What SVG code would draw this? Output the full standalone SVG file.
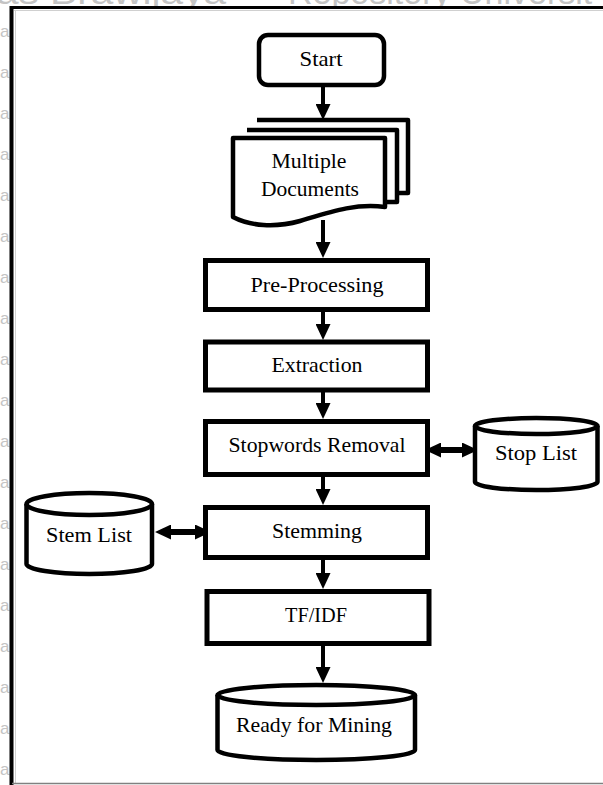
<svg xmlns="http://www.w3.org/2000/svg" width="603" height="785" viewBox="0 0 603 785">
<style>
  .wm { font-family: "Liberation Sans", Arial, sans-serif; fill: #c4c4c4; }
  .box { fill: #ffffff; stroke: #000; stroke-width: 5; }
  .shape { fill: #ffffff; stroke: #000; stroke-width: 4.5; stroke-linejoin: round; }
  .lbl { font-family: "Liberation Serif", "Times New Roman", serif; font-size: 21px; fill: #000; text-anchor: middle; }
  .conn { stroke: #000; stroke-width: 4; fill: none; }
  .dbl { stroke: #000; stroke-width: 6; fill: none; }
</style>
<defs>
  <marker id="ah" markerUnits="userSpaceOnUse" markerWidth="16" markerHeight="15" refX="6" refY="7.5" orient="auto-start-reverse" viewBox="0 0 16 15">
    <path d="M0,0 L16,7.5 L0,15 Z" fill="#000"/>
  </marker>
</defs>
<rect x="0" y="0" width="603" height="785" fill="#ffffff"/>
<g id="watermark">
  <text class="wm" x="-4" y="4" font-size="34" textLength="230" lengthAdjust="spacingAndGlyphs">as Brawijaya</text>
  <text class="wm" x="256" y="4" font-size="34">—</text>
  <text class="wm" x="288" y="4" font-size="34">Repository Universit</text>
  <g font-size="17">
    <text class="wm" x="0" y="37">a</text>
    <text class="wm" x="0" y="78">a</text>
    <text class="wm" x="0" y="119">a</text>
    <text class="wm" x="0" y="160">a</text>
    <text class="wm" x="0" y="201">a</text>
    <text class="wm" x="0" y="242">a</text>
    <text class="wm" x="0" y="283">a</text>
    <text class="wm" x="0" y="324">a</text>
    <text class="wm" x="0" y="365">a</text>
    <text class="wm" x="0" y="406">a</text>
    <text class="wm" x="0" y="447">a</text>
    <text class="wm" x="0" y="488">a</text>
    <text class="wm" x="0" y="529">a</text>
    <text class="wm" x="0" y="570">a</text>
    <text class="wm" x="0" y="611">a</text>
    <text class="wm" x="0" y="652">a</text>
    <text class="wm" x="0" y="693">a</text>
    <text class="wm" x="0" y="734">a</text>
    <text class="wm" x="0" y="775">a</text>
  </g>
</g>
<g id="frame">
  <rect x="13" y="9" width="600" height="774" fill="#ffffff"/>
  <line x1="15.5" y1="10" x2="15.5" y2="783" stroke="#d0d0d0" stroke-width="1"/>
  <line x1="14" y1="10.5" x2="603" y2="10.5" stroke="#d0d0d0" stroke-width="1"/>
  <line x1="11.5" y1="6" x2="11.5" y2="785" stroke="#000" stroke-width="4"/>
  <line x1="10" y1="7.5" x2="603" y2="7.5" stroke="#000" stroke-width="3"/>
  <line x1="12" y1="783.5" x2="603" y2="783.5" stroke="#808080" stroke-width="1.5"/>
</g>
<g id="connectors">
  <line class="conn" x1="323" y1="87" x2="323" y2="110" marker-end="url(#ah)"/>
  <line class="conn" x1="323" y1="220" x2="323" y2="248" marker-end="url(#ah)"/>
  <line class="conn" x1="323" y1="312" x2="323" y2="330" marker-end="url(#ah)"/>
  <line class="conn" x1="323" y1="392" x2="323" y2="409" marker-end="url(#ah)"/>
  <line class="conn" x1="323" y1="477" x2="323" y2="495" marker-end="url(#ah)"/>
  <line class="conn" x1="323" y1="559" x2="323" y2="579" marker-end="url(#ah)"/>
  <line class="conn" x1="323" y1="646" x2="323" y2="673" marker-end="url(#ah)"/>
  <line class="dbl" x1="435" y1="450" x2="468" y2="450" marker-start="url(#ah)" marker-end="url(#ah)"/>
  <line class="dbl" x1="165" y1="532" x2="201" y2="532" marker-start="url(#ah)" marker-end="url(#ah)"/>
</g>
<g id="start">
  <rect class="shape" x="259" y="35" width="125" height="50" rx="9"/>
  <text class="lbl" x="321" y="66" textLength="43" lengthAdjust="spacingAndGlyphs">Start</text>
</g>
<g id="documents">
  <path class="shape" d="M257,120 H408 V193 H397"/>
  <path class="shape" d="M247,130 H397 V202 H385"/>
  <path class="shape" d="M233,138 H385 V207 C355,203 330,212 300,221 C275,228 250,226 233,217 Z"/>
  <text class="lbl" x="309" y="168" textLength="75" lengthAdjust="spacingAndGlyphs">Multiple</text>
  <text class="lbl" x="310" y="196" textLength="98" lengthAdjust="spacingAndGlyphs">Documents</text>
</g>
<g id="preprocessing">
  <rect class="box" x="205.5" y="260.5" width="222" height="49"/>
  <text class="lbl" x="317" y="292" textLength="133" lengthAdjust="spacingAndGlyphs">Pre-Processing</text>
</g>
<g id="extraction">
  <rect class="box" x="205.5" y="342" width="222" height="48"/>
  <text class="lbl" x="317" y="372" textLength="91" lengthAdjust="spacingAndGlyphs">Extraction</text>
</g>
<g id="stopwords">
  <rect class="box" x="205.5" y="421.5" width="222" height="53"/>
  <text class="lbl" x="317" y="452" textLength="177" lengthAdjust="spacingAndGlyphs">Stopwords Removal</text>
</g>
<g id="stoplist">
  <path class="shape" d="M475,426 A61.25,8 0 0 1 597.5,426 V482 A61.25,8 0 0 1 475,482 Z"/>
  <path class="shape" fill="none" d="M475,426 A61.25,8 0 0 0 597.5,426"/>
  <text class="lbl" x="536" y="460" textLength="82" lengthAdjust="spacingAndGlyphs">Stop List</text>
</g>
<g id="stemming">
  <rect class="box" x="205.5" y="507.5" width="222" height="50"/>
  <text class="lbl" x="317" y="538" textLength="90" lengthAdjust="spacingAndGlyphs">Stemming</text>
</g>
<g id="stemlist">
  <path class="shape" d="M26.5,504 A62.75,11 0 0 1 152,504 V564 A62.75,10 0 0 1 26.5,564 Z"/>
  <path class="shape" fill="none" d="M26.5,504 A62.75,11 0 0 0 152,504"/>
  <text class="lbl" x="89" y="542" textLength="86" lengthAdjust="spacingAndGlyphs">Stem List</text>
</g>
<g id="tfidf">
  <rect class="box" x="207" y="591.5" width="222" height="52"/>
  <text class="lbl" x="316" y="622" textLength="62" lengthAdjust="spacingAndGlyphs">TF/IDF</text>
</g>
<g id="ready">
  <path class="shape" d="M217.5,695 A98.75,10 0 0 1 415,695 V750 A98.75,10 0 0 1 217.5,750 Z"/>
  <path class="shape" fill="none" d="M217.5,695 A98.75,10 0 0 0 415,695"/>
  <text class="lbl" x="314" y="732" textLength="156" lengthAdjust="spacingAndGlyphs">Ready for Mining</text>
</g>
</svg>
